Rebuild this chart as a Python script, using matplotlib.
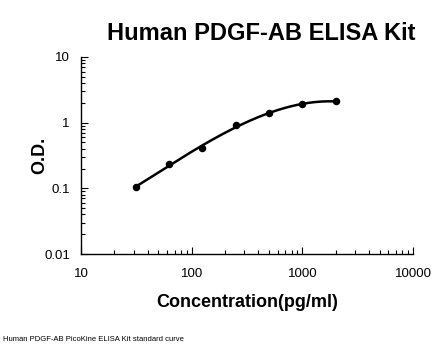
import numpy as np
import matplotlib
matplotlib.use("Agg")
from matplotlib import pyplot as plt
from matplotlib.ticker import LogLocator, FixedLocator, NullFormatter

plt.rcParams['font.family'] = ['Liberation Sans', 'DejaVu Sans']

# standard curve data
conc = [31.25, 62.5, 125, 250, 500, 1000, 2000]
od = [0.105, 0.232, 0.41, 0.92, 1.38, 1.9, 2.12]
xticks = [10, 100, 1000, 10000]
yticks = [0.01, 0.1, 1, 10]
ytick_labels = ['0.01', '0.1', '1', '10']

# fitted curve in log-log space
lx = np.log10(conc)
ly = np.log10(od)
coef = np.polyfit(lx, ly, 3)
fx = np.linspace(lx[0], lx[-1], 200)
fy = np.polyval(coef, fx)

fig = plt.figure(figsize=(4.46, 3.56), dpi=100)
ax = fig.add_axes([0.1816, 0.2865, 0.7444, 0.5535])

ax.plot(10**fx, 10**fy, color='black', lw=1.8, solid_capstyle='round')
ax.plot(conc, od, 'o', color='black', ms=4.4)

ax.set_xscale('log')
ax.set_yscale('log')
ax.set_xlim(10, 10000)
ax.set_ylim(0.01, 10)
ax.xaxis.set_major_locator(FixedLocator(xticks))
ax.set_xticklabels([str(v) for v in xticks])
ax.yaxis.set_major_locator(FixedLocator(yticks))
ax.set_yticklabels(ytick_labels)
ax.xaxis.set_minor_locator(LogLocator(base=10, subs=np.arange(2, 10)))
ax.yaxis.set_minor_locator(LogLocator(base=10, subs=np.arange(2, 10)))
ax.xaxis.set_minor_formatter(NullFormatter())
ax.yaxis.set_minor_formatter(NullFormatter())

for s in ['top', 'right']:
    ax.spines[s].set_visible(False)
for s in ['left', 'bottom']:
    ax.spines[s].set_linewidth(1.0)

ax.tick_params(which='major', direction='in', length=5, width=0.8, labelsize=9.5)
ax.tick_params(which='minor', direction='in', length=3, width=0.8)
ax.tick_params(axis='x', which='major', pad=10)
ax.tick_params(axis='y', which='major', pad=8)

fig.text(0.585, 0.905, 'Human PDGF-AB ELISA Kit', fontsize=17, fontweight='bold',
         ha='center', va='center')
ax.set_ylabel('O.D.', fontsize=13, fontweight='bold', labelpad=-3)
ax.set_xlabel('Concentration(pg/ml)', fontsize=13, fontweight='bold', labelpad=10)
fig.text(0.007, 0.045, 'Human PDGF-AB PicoKine ELISA Kit standard curve', fontsize=5.5,
         ha='left', va='center')

fig.savefig('out.png', dpi=100)
